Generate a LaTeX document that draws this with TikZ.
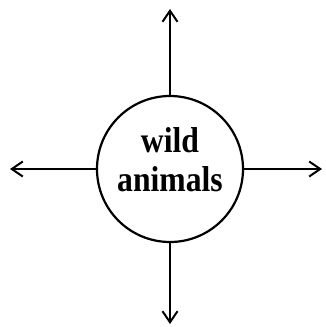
\documentclass[tikz,border=0pt]{standalone}
\usepackage{fontspec}
\setmainfont{Liberation Serif}
\newfontfamily\hubfont[FakeStretch=0.88]{Liberation Serif}
\usetikzlibrary{arrows.meta}

\tikzset{
  hub/.style={circle, draw, line width=2.2pt, minimum size=146pt, inner sep=0pt},
  hubtext/.style={font=\hubfont\bfseries\fontsize{36}{39}\selectfont, align=center, inner sep=0pt},
  spoke/.style={line width=2.2pt, -{Straight Barb[length=11pt, width=15pt, line width=2pt]}}
}

\begin{document}
\begin{tikzpicture}[x=1pt, y=-1pt]

% Frame
\useasboundingbox (0,0) rectangle (325,327);

% Centre
\node[hub] (hub) at (170,169) {};
\node[hubtext] (name) at ([yshift=9pt]hub.center) {wild\\animals};

% Arrow ends
\coordinate (top) at (170,9);
\coordinate (bottom) at (170,324);
\coordinate (left) at (10,169);
\coordinate (right) at (322,169);

% Spokes
\foreach \e in {top,bottom,left,right}{
  \draw[spoke] (hub) -- (\e);
}

\end{tikzpicture}
\end{document}
